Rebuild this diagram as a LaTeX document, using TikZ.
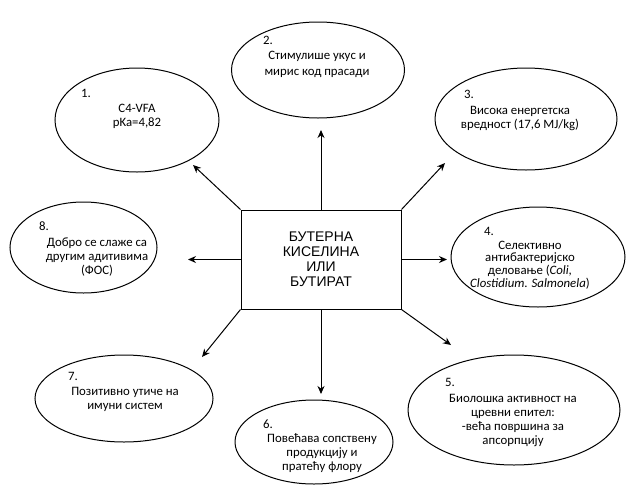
\documentclass[tikz,border=0pt]{standalone}
\usepackage{fontspec}
\setmainfont{Carlito}
\newfontfamily\boxfont{Liberation Sans}
\usetikzlibrary{shapes.geometric,arrows.meta}

\tikzset{
  bubble/.style={draw, ellipse, line width=1pt, inner sep=0pt},
  body/.style={align=center, inner sep=0pt, font=\fontsize{12.8}{14}\selectfont},
  num/.style={inner sep=0pt, font=\fontsize{12.8}{14}\selectfont},
  arr/.style={-{Stealth[length=8pt,width=7pt]}, line width=1pt}
}

\begin{document}
\begin{tikzpicture}[x=1pt, y=-1pt]
    % picture measured in pixels, y pointing down
    \useasboundingbox (0,0) rectangle (626,485);
    % centre box
    \node[draw, line width=1pt, minimum width=160pt, minimum height=99pt, align=center,
          font=\boxfont\fontsize{14}{15}\selectfont] (box) at (321,259.5)
          {БУТЕРНА\\КИСЕЛИНА\\ИЛИ\\БУТИРАТ};
    % the eight ellipses
    \node[bubble, minimum width=164pt, minimum height=104pt] (e1) at (137,120) {};
    \node[bubble, minimum width=173pt, minimum height=96pt] (e2) at (318,70) {};
    \node[bubble, minimum width=182pt, minimum height=102pt] (e3) at (526,119) {};
    \node[bubble, minimum width=174pt, minimum height=100pt] (e4) at (538,257) {};
    \node[bubble, minimum width=212pt, minimum height=110pt] (e5) at (514,410) {};
    \node[bubble, minimum width=158pt, minimum height=84pt] (e6) at (314,442) {};
    \node[bubble, minimum width=178pt, minimum height=87pt] (e7) at (124,398.5) {};
    \node[bubble, minimum width=147pt, minimum height=91pt] (e8) at (83.5,247.5) {};
    % numbers
    \node[num] (n1) at (86,93) {1.};
    \node[num] (n2) at (268,40) {2.};
    \node[num] (n3) at (469,94) {3.};
    \node[num] (n4) at (489,231) {4.};
    \node[num] (n5) at (450,382) {5.};
    \node[num] (n6) at (268,424) {6.};
    \node[num] (n7) at (73,376) {7.};
    \node[num] (n8) at (44,226) {8.};
    % texts
    \node[body] (x1) at (137,116) {C4-VFA\\pKa=4,82};
    \node[body, font=\fontsize{12.8}{16}\selectfont] (x2) at (317,64) {Стимулише укус и\\мирис код прасади};
    \node[body] (x3) at (520,118) {Висока енергетска\\вредност (17,6 MJ/kg)};
    \node[body, font=\fontsize{12.8}{12.8}\selectfont] (x4) at (530,265)
          {Селективно\\антибактеријско\\деловање (\textit{Coli,}\\\textit{Clostidium. Salmonela})};
    \node[body] (x5) at (513,420) {Биолошка активност на\\цревни епител:\\-већа површина за\\апсорпцију};
    \node[body] (x6) at (322,453) {Повећава сопствену\\продукцију и\\пратећу флору};
    \node[body] (x7) at (125,399.5) {Позитивно утиче на\\имуни систем};
    \node[body] (x8) at (97,257) {Добро се слаже са\\другим адитивима\\(ФОС)};
    % arrow tips
    \coordinate (t1) at (193,165);
    \coordinate (t2) at (321,130);
    \coordinate (t3) at (445,163);
    \coordinate (t4) at (447,259.5);
    \coordinate (t5) at (451,345);
    \coordinate (t6) at (321,394);
    \coordinate (t7) at (202,357);
    \coordinate (t8) at (188,259.5);
    \foreach \a/\t in {north west/t1, north/t2, north east/t3, east/t4,
                       south east/t5, south/t6, south west/t7, west/t8}
      \draw[arr] (box.\a) -- (\t);
\end{tikzpicture}
\end{document}
